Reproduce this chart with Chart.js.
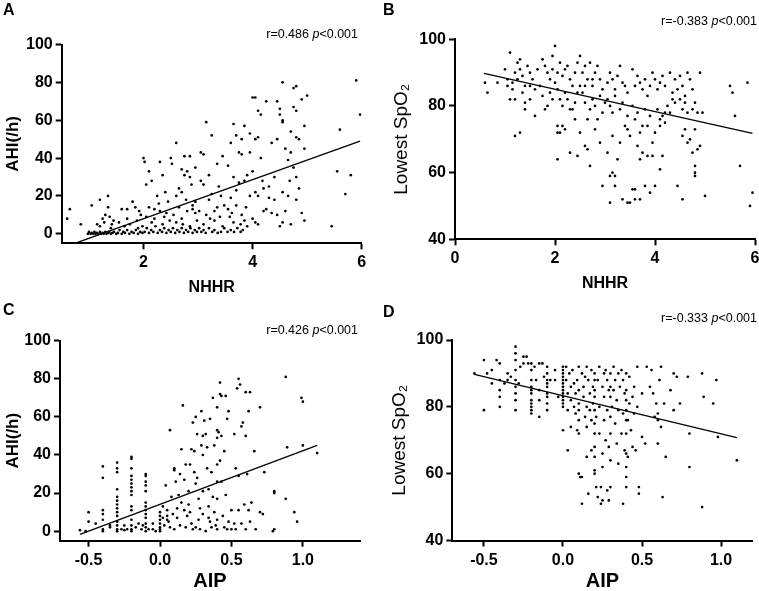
<!DOCTYPE html>
<html>
<head>
<meta charset="utf-8">
<script src="https://cdn.jsdelivr.net/npm/chart.js@4.4.1/dist/chart.umd.min.js"></script>
<style>
  body { margin: 0; background: #fff; overflow: hidden; }
  #wrap { position: relative; width: 759px; height: 591px; font-family: "Liberation Sans", Arial, sans-serif; color: #000; }
  canvas { position: absolute; }
  .tag { position: absolute; font-size: 16px; font-weight: bold; line-height: 1; }
  .note { position: absolute; width: 200px; text-align: right; font-size: 12.5px; line-height: 14px; white-space: nowrap; }
</style>
</head>
<body>
<div id="wrap">
  <canvas id="chartA" width="380" height="300" style="left:0;top:0"></canvas>
  <canvas id="chartB" width="385" height="300" style="left:380px;top:0"></canvas>
  <canvas id="chartC" width="380" height="301" style="left:0;top:290px"></canvas>
  <canvas id="chartD" width="385" height="301" style="left:380px;top:290px"></canvas>
  <div class="tag" style="left:3px;top:2px">A</div>
  <div class="tag" style="left:383px;top:2px">B</div>
  <div class="tag" style="left:3px;top:302px">C</div>
  <div class="tag" style="left:383px;top:304px">D</div>
  <div class="note" style="left:158px;top:27px">r=0.486 <i>p</i>&lt;0.001</div>
  <div class="note" style="left:557px;top:14px">r=-0.383 <i>p</i>&lt;0.001</div>
  <div class="note" style="left:158px;top:323px">r=0.426 <i>p</i>&lt;0.001</div>
  <div class="note" style="left:557px;top:311px">r=-0.333 <i>p</i>&lt;0.001</div>
</div>
<script>
// tick values / labels
const nhhrTicksA = [2, 4, 6];
const nhhrTicksB = [0, 2, 4, 6];
const aipTicks = [-0.5, 0, 0.5, 1.0];
const aipLabels = ["-0.5", "0.0", "0.5", "1.0"];
const ahiTicks = [0, 20, 40, 60, 80, 100];
const spo2Ticks = [40, 60, 80, 100];

// regression lines (end points)
const fitA = [[0.74, -5], [5.97, 49]];
const fitB = [[0.58, 89.8], [5.95, 71.8]];
const fitC = [[-0.56, -1.7], [1.1, 45]];
const fitD = [[-0.56, 89.7], [1.1, 70.8]];

// A: NHHR vs AHI
const nhhrAhi = [
  [0.6, 8], [0.65, 13], [0.85, 5],
  [1.05, 15], [1.2, 18], [1.35, 20], [1.35, 14], [1.25, 8], [1.15, 5], [1.3, 10], [1.4, 3], [1.45, 7], [1.2, 4], [1.28, 6], [1.38, 9], [1.42, 5],
  [0.98, 0], [1.0, 1], [1.03, 0], [1.05, 0.5], [1.08, 0], [1.1, 1], [1.12, 0], [1.14, 0.5], [1.17, 0], [1.2, 1], [1.22, 0], [1.25, 0.5], [1.27, 0], [1.3, 1], [1.32, 0], [1.35, 0.5], [1.37, 1], [1.4, 0], [1.43, 0.5], [1.46, 1], [1.5, 0], [1.53, 0.5], [1.56, 2], [1.6, 0], [1.63, 1], [1.66, 0.5], [1.7, 2], [1.74, 0], [1.78, 1], [1.82, 0.5], [1.86, 2], [1.9, 0], [1.94, 1], [1.98, 0.5],
  [1.6, 13], [1.7, 13], [1.8, 17], [1.85, 14], [1.55, 6], [1.7, 8], [1.9, 3], [1.95, 10], [1.65, 4], [1.75, 5], [1.88, 7], [1.92, 12], [1.98, 4],
  [2.02, 1], [2.06, 3], [2.1, 0.5], [2.14, 2], [2.18, 1], [2.22, 4], [2.26, 0.5], [2.3, 2], [2.34, 1], [2.38, 3], [2.42, 0.5], [2.46, 2], [2.5, 1], [2.54, 3], [2.58, 0.5], [2.62, 2], [2.66, 1], [2.7, 3], [2.74, 0.5], [2.78, 2], [2.82, 1], [2.86, 3], [2.9, 0.5], [2.94, 2], [2.98, 1], [3.02, 3], [3.06, 1], [3.1, 2], [3.14, 0.5], [3.2, 3], [3.26, 1], [3.3, 2], [3.36, 0.5], [3.42, 1], [3.48, 3], [3.54, 1], [3.6, 2], [3.66, 1], [3.72, 3], [3.78, 1], [3.82, 2],
  [2.0, 40], [2.02, 38], [2.05, 26], [2.1, 33], [2.15, 28], [2.3, 38], [2.35, 31], [2.5, 40], [2.52, 37], [2.25, 20], [2.3, 12], [2.4, 22], [2.45, 17], [2.2, 8], [2.1, 14], [2.05, 9], [2.35, 5], [2.15, 6], [2.28, 16], [2.42, 11], [2.48, 7], [2.2, 13], [2.38, 9],
  [2.6, 48], [2.75, 41], [2.85, 41], [2.7, 34], [2.75, 31], [2.8, 33], [2.85, 30], [2.95, 35], [2.65, 24], [2.7, 22], [2.9, 15], [2.95, 17], [2.6, 20], [2.8, 12], [2.9, 13], [2.95, 11], [2.7, 8], [2.85, 4], [2.6, 6], [2.55, 10], [2.65, 14], [2.78, 18], [2.88, 26], [2.98, 7], [2.72, 5],
  [3.15, 59], [3.25, 52], [3.05, 43], [3.1, 42], [3.35, 37], [3.45, 41], [3.05, 28], [3.1, 26], [3.2, 18], [3.25, 21], [3.35, 14], [3.4, 9], [3.15, 10], [3.3, 7], [3.45, 4], [3.1, 5], [3.3, 12], [3.2, 31], [3.38, 25], [3.48, 15], [3.02, 12], [3.22, 8], [3.42, 20],
  [3.65, 58], [3.7, 52], [3.85, 57], [3.8, 50], [3.95, 53], [3.75, 43], [3.8, 42], [3.95, 43], [3.6, 48], [3.55, 36], [3.65, 30], [3.75, 27], [3.9, 31], [3.85, 28], [3.6, 19], [3.7, 15], [3.55, 13], [3.8, 10], [3.85, 7], [3.65, 6], [3.9, 4], [3.95, 20], [3.7, 23], [3.58, 9], [3.78, 5], [3.62, 11], [3.88, 14],
  [4.0, 72], [4.05, 72], [4.1, 65], [4.15, 63], [4.25, 70], [4.1, 51], [4.05, 50], [4.15, 40], [4.0, 33], [4.05, 22], [4.1, 20], [4.2, 24], [4.3, 19], [4.4, 18], [4.2, 12], [4.35, 11], [4.45, 10], [4.05, 6], [4.1, 5], [4.3, 25], [4.25, 13], [4.4, 30], [4.0, 8], [4.18, 28], [4.35, 48],
  [4.55, 80], [4.75, 77], [4.8, 78], [4.45, 70], [4.5, 66], [4.55, 60], [4.5, 63], [4.45, 50], [4.55, 59], [4.75, 67], [4.8, 65], [4.9, 71], [5.0, 73], [4.95, 57], [4.7, 54], [4.8, 51], [4.85, 50], [4.95, 45], [4.7, 43], [4.65, 39], [4.75, 35], [4.8, 30], [4.55, 22], [4.65, 20], [4.8, 18], [4.9, 11], [4.6, 12], [4.55, 6], [4.7, 5], [4.5, 4], [4.95, 7], [4.6, 45], [4.85, 24], [4.68, 28],
  [5.45, 4], [5.55, 33], [5.6, 55], [5.7, 21], [5.8, 31], [5.9, 81], [5.97, 63]
];

// B: NHHR vs lowest SpO2
const nhhrSpo2 = [
  [0.6, 87], [0.65, 84], [0.85, 87], [1.0, 91], [1.05, 88], [1.1, 96], [1.05, 86], [1.1, 82], [1.15, 87], [1.2, 90], [1.25, 93], [1.3, 94], [1.3, 91], [1.35, 89], [1.4, 86], [1.45, 92], [1.5, 90], [1.5, 86], [1.55, 88], [1.6, 85], [1.65, 91], [1.4, 81], [1.4, 79], [1.5, 82], [1.2, 71], [1.3, 72], [1.2, 82], [1.15, 85], [1.25, 88], [1.35, 84],
  [1.75, 94], [1.8, 92], [1.85, 90], [1.9, 88], [1.95, 95], [2.0, 98], [1.7, 86], [1.75, 83], [1.8, 79], [1.9, 84], [1.95, 82], [1.6, 77], [1.85, 80], [2.0, 87], [1.95, 91],
  [2.05, 90], [2.1, 93], [2.15, 89], [2.2, 91], [2.25, 92], [2.3, 88], [2.35, 86], [2.4, 90], [2.45, 93], [2.5, 95], [2.05, 85], [2.1, 82], [2.15, 80], [2.2, 84], [2.25, 82], [2.3, 79], [2.4, 81], [2.45, 84], [2.05, 74], [2.1, 72], [2.05, 72], [2.15, 74], [2.2, 73], [2.4, 76], [2.05, 64], [2.3, 66], [2.45, 65], [2.5, 72], [2.35, 79], [2.5, 86],
  [2.55, 90], [2.6, 92], [2.65, 88], [2.7, 93], [2.75, 86], [2.8, 90], [2.85, 92], [2.9, 88], [2.95, 85], [2.55, 84], [2.6, 81], [2.65, 76], [2.7, 79], [2.75, 82], [2.8, 80], [2.9, 83], [2.95, 78], [2.6, 68], [2.65, 67], [2.7, 62], [2.8, 73], [2.9, 69], [2.95, 56], [2.85, 76], [3.0, 81], [2.6, 86], [2.75, 88],
  [3.05, 87], [3.1, 90], [3.15, 88], [3.2, 85], [3.25, 89], [3.3, 92], [3.35, 87], [3.4, 86], [3.45, 84], [3.05, 82], [3.1, 80], [3.15, 78], [3.2, 83], [3.3, 79], [3.35, 81], [3.45, 77], [3.05, 66], [3.1, 59], [3.15, 60], [3.2, 59], [3.25, 64], [3.1, 51], [3.2, 56], [3.3, 69], [3.35, 52], [3.45, 51], [3.5, 51], [3.4, 74], [3.45, 73], [3.15, 71],
  [3.55, 91], [3.6, 86], [3.65, 89], [3.7, 87], [3.75, 85], [3.8, 88], [3.85, 83], [3.9, 86], [3.95, 90], [3.55, 80], [3.6, 76], [3.65, 78], [3.7, 72], [3.75, 74], [3.8, 79], [3.85, 74], [3.9, 77], [3.95, 69], [3.55, 55], [3.6, 55], [3.65, 68], [3.7, 64], [3.75, 66], [3.8, 56], [3.85, 65], [3.9, 54], [3.95, 65], [4.0, 56], [3.6, 52], [3.5, 71], [3.7, 52],
  [4.0, 88], [4.05, 85], [4.1, 87], [4.15, 89], [4.2, 86], [4.3, 90], [4.35, 84], [4.4, 81], [4.45, 85], [4.05, 79], [4.1, 76], [4.15, 77], [4.2, 75], [4.25, 80], [4.3, 78], [4.35, 82], [4.0, 72], [4.1, 74], [4.15, 65], [4.1, 61], [4.45, 56], [4.5, 82], [4.2, 78], [4.4, 88],
  [4.5, 89], [4.55, 86], [4.6, 83], [4.65, 90], [4.7, 88], [4.75, 85], [4.8, 81], [4.85, 78], [4.9, 90], [4.55, 79], [4.6, 81], [4.65, 78], [4.55, 71], [4.6, 73], [4.65, 69], [4.7, 70], [4.75, 66], [4.8, 73], [4.85, 67], [4.9, 68], [4.8, 62], [4.8, 60], [4.8, 59], [4.55, 52], [5.0, 53], [4.95, 78], [4.75, 79],
  [5.5, 86], [5.55, 84], [5.6, 77], [5.7, 62], [5.85, 87], [5.9, 50], [5.95, 54]
];

// C: AIP vs AHI
const aipAhi = [
  [-0.56, 0.5], [-0.52, 0], [-0.5, 10], [-0.5, 5], [-0.45, 4], [-0.4, 34], [-0.4, 28], [-0.4, 11], [-0.4, 9], [-0.4, 6], [-0.4, 1], [-0.4, 0], [-0.35, 3], [-0.35, 2],
  [-0.3, 36], [-0.3, 33], [-0.3, 31], [-0.3, 22], [-0.3, 18], [-0.3, 16], [-0.3, 14], [-0.3, 12], [-0.3, 10], [-0.3, 8], [-0.3, 5], [-0.3, 3], [-0.3, 1], [-0.3, 0], [-0.27, 1], [-0.25, 0.5],
  [-0.2, 39], [-0.2, 38], [-0.2, 33], [-0.2, 29], [-0.2, 27], [-0.2, 25], [-0.2, 23], [-0.2, 21], [-0.2, 19], [-0.2, 13], [-0.2, 11], [-0.2, 6], [-0.2, 3], [-0.2, 1], [-0.2, 0], [-0.23, 1], [-0.17, 2], [-0.15, 4], [-0.13, 1], [-0.25, 3],
  [-0.1, 30], [-0.1, 29], [-0.1, 26], [-0.1, 24], [-0.1, 21], [-0.1, 15], [-0.1, 13], [-0.1, 11], [-0.1, 9], [-0.1, 7], [-0.1, 4], [-0.1, 2], [-0.1, 0], [-0.12, 3], [-0.08, 1], [-0.05, 4], [-0.05, 1], [-0.03, 0],
  [0.0, 10], [0.0, 8], [0.0, 6], [0.0, 4], [0.0, 2], [0.0, 1], [0.0, 0], [0.02, 13], [0.02, 7], [0.03, 3], [0.04, 24], [0.05, 11], [0.05, 8], [0.05, 6], [0.06, 5], [0.07, 2], [0.07, 53], [0.08, 18], [0.09, 9], [0.1, 33], [0.1, 32], [0.1, 1], [0.11, 26], [0.12, 12], [0.12, 7], [0.13, 19], [0.14, 30], [0.14, 3], [0.15, 43], [0.15, 15], [0.16, 66], [0.17, 27], [0.17, 11], [0.18, 35], [0.18, 2], [0.19, 8],
  [0.2, 21], [0.2, 14], [0.21, 10], [0.22, 4], [0.22, 43], [0.23, 57], [0.24, 42], [0.24, 31], [0.25, 25], [0.25, 60], [0.26, 51], [0.26, 28], [0.27, 17], [0.27, 6], [0.28, 1], [0.29, 45], [0.29, 63], [0.3, 50], [0.3, 40], [0.3, 21], [0.3, 9], [0.25, 2], [0.23, 1], [0.28, 12], [0.21, 35],
  [0.31, 58], [0.32, 51], [0.33, 44], [0.33, 33], [0.34, 22], [0.34, 13], [0.35, 59], [0.35, 5], [0.36, 31], [0.36, 2], [0.37, 70], [0.37, 18], [0.38, 45], [0.38, 10], [0.39, 3], [0.4, 65], [0.4, 53], [0.4, 49], [0.4, 35], [0.4, 26], [0.4, 17], [0.4, 6], [0.4, 1], [0.32, 0], [0.34, 7],
  [0.41, 52], [0.42, 78], [0.42, 72], [0.43, 71], [0.43, 50], [0.42, 37], [0.44, 8], [0.45, 2], [0.46, 71], [0.46, 19], [0.47, 59], [0.47, 1], [0.48, 63], [0.5, 11], [0.5, 1], [0.45, 42], [0.43, 26], [0.48, 5],
  [0.52, 51], [0.53, 33], [0.54, 75], [0.55, 80], [0.56, 77], [0.57, 55], [0.58, 57], [0.59, 14], [0.6, 73], [0.6, 50], [0.61, 30], [0.62, 63], [0.62, 11], [0.63, 73], [0.64, 15], [0.63, 5], [0.66, 42], [0.67, 1], [0.55, 29], [0.55, 11], [0.57, 4], [0.52, 4], [0.53, 1], [0.7, 65], [0.7, 10], [0.72, 9], [0.73, 31], [0.6, 1],
  [0.79, 0], [0.8, 1], [0.8, 21], [0.8, 20], [0.88, 81], [0.89, 44], [0.88, 17], [0.94, 10], [0.96, 5], [0.99, 70], [1.0, 68], [1.0, 45], [1.1, 41]
];

// D: AIP vs lowest SpO2
const aipSpo2 = [
  [-0.56, 90], [-0.5, 94], [-0.5, 79], [-0.48, 90], [-0.45, 91], [-0.45, 87], [-0.42, 94], [-0.4, 93], [-0.4, 88], [-0.4, 85], [-0.4, 83], [-0.4, 80], [-0.37, 87], [-0.35, 90], [-0.35, 88], [-0.33, 89], [-0.3, 98], [-0.3, 96], [-0.3, 94], [-0.3, 91], [-0.3, 88], [-0.3, 86], [-0.3, 84], [-0.3, 82], [-0.3, 79], [-0.28, 87], [-0.27, 92],
  [-0.25, 95], [-0.25, 93], [-0.23, 95], [-0.22, 93], [-0.2, 93], [-0.2, 91], [-0.2, 88], [-0.2, 86], [-0.2, 85], [-0.2, 84], [-0.2, 82], [-0.2, 81], [-0.2, 80], [-0.2, 79], [-0.2, 78], [-0.18, 92], [-0.17, 88], [-0.15, 93], [-0.15, 85], [-0.15, 82], [-0.15, 77], [-0.13, 93], [-0.12, 89], [-0.1, 92], [-0.1, 90], [-0.1, 88], [-0.1, 87], [-0.1, 86], [-0.1, 84], [-0.1, 83], [-0.1, 81], [-0.1, 79], [-0.08, 88], [-0.05, 91], [-0.05, 88], [-0.03, 83],
  [0.0, 92], [0.0, 91], [0.0, 90], [0.0, 89], [0.0, 88], [0.0, 87], [0.0, 86], [0.0, 85], [0.0, 84], [0.0, 83], [0.0, 82], [0.0, 81], [0.0, 80], [0.0, 73], [0.02, 92], [0.02, 88], [0.03, 84], [0.03, 79], [0.03, 67], [0.04, 90], [0.05, 86], [0.05, 82], [0.05, 74], [0.06, 91], [0.07, 87], [0.07, 80], [0.08, 84], [0.08, 78], [0.09, 88], [0.09, 73], [0.1, 92], [0.1, 85], [0.1, 81], [0.1, 79], [0.1, 76], [0.1, 72], [0.1, 60], [0.11, 59], [0.12, 51], [0.12, 59],
  [0.12, 90], [0.13, 86], [0.13, 83], [0.14, 89], [0.14, 77], [0.15, 92], [0.15, 80], [0.15, 74], [0.15, 65], [0.16, 88], [0.16, 54], [0.17, 84], [0.17, 79], [0.18, 91], [0.18, 76], [0.18, 67], [0.19, 86], [0.19, 81], [0.2, 90], [0.2, 88], [0.2, 85], [0.2, 83], [0.2, 79], [0.2, 75], [0.2, 72], [0.2, 68], [0.2, 65], [0.2, 61], [0.2, 60], [0.21, 56], [0.21, 77], [0.22, 88], [0.22, 53],
  [0.23, 92], [0.23, 80], [0.23, 72], [0.24, 51], [0.24, 56], [0.25, 86], [0.25, 66], [0.25, 62], [0.25, 52], [0.26, 90], [0.26, 83], [0.26, 76], [0.27, 91], [0.27, 70], [0.28, 88], [0.28, 79], [0.28, 55], [0.29, 85], [0.29, 68], [0.29, 52], [0.3, 90], [0.3, 86], [0.3, 83], [0.3, 77], [0.3, 72], [0.3, 64], [0.3, 56], [0.31, 80], [0.32, 92], [0.32, 85], [0.33, 88], [0.33, 75], [0.34, 82], [0.34, 69], [0.35, 90], [0.35, 79], [0.35, 63],
  [0.36, 86], [0.37, 91], [0.37, 72], [0.38, 88], [0.38, 78], [0.38, 51], [0.39, 84], [0.39, 67], [0.4, 90], [0.4, 85], [0.4, 82], [0.4, 79], [0.4, 76], [0.4, 72], [0.4, 66], [0.4, 62], [0.4, 59], [0.4, 56], [0.41, 76], [0.41, 65], [0.42, 89], [0.42, 81], [0.43, 73], [0.44, 83], [0.44, 68], [0.45, 86], [0.45, 78], [0.46, 67], [0.47, 92], [0.47, 80], [0.48, 56], [0.48, 54], [0.5, 84], [0.5, 71],
  [0.52, 69], [0.53, 92], [0.55, 86], [0.56, 91], [0.57, 84], [0.58, 77], [0.59, 81], [0.6, 78], [0.6, 69], [0.6, 76], [0.61, 88], [0.62, 92], [0.62, 74], [0.63, 53], [0.64, 81], [0.65, 65], [0.68, 85], [0.7, 90], [0.7, 79], [0.72, 89], [0.74, 81], [0.79, 89], [0.8, 72], [0.8, 62], [0.88, 90], [0.89, 83], [0.88, 50], [0.95, 81], [0.97, 88], [0.98, 71], [1.1, 64]
];

const FONT = "'Liberation Sans', Arial, sans-serif";

const toXY = (arr) => arr.map(([x, y]) => ({ x, y }));

const axis = (o) => ({
  type: "linear",
  min: o.min,
  max: o.max,
  afterBuildTicks: (s) => { s.ticks = o.ticks.map((v) => ({ value: v })); },
  afterFit: (s) => {
    if (s.isHorizontal()) s.height = o.size;
    else s.width = o.size;
  },
  ticks: {
    autoSkip: false,
    maxRotation: 0,
    color: "#000",
    padding: o.tickPad,
    font: { family: FONT, size: 16, weight: "bold" },
    callback: (v, i) => (o.labels ? o.labels[i] : String(v)),
  },
  grid: { drawOnChartArea: false, drawTicks: true, tickLength: 6, tickWidth: 2, tickColor: "#000" },
  border: { display: true, color: "#000", width: 2 },
  title: {
    display: true,
    text: o.title,
    color: "#000",
    font: { family: FONT, size: o.titleSize, weight: o.titleWeight, lineHeight: 1 },
    padding: o.titlePad,
  },
});

const makePanel = (id, pts, fit, pad, xOpt, yOpt) => new Chart(document.getElementById(id), {
  type: "scatter",
  data: {
    datasets: [
      { data: toXY(pts), pointRadius: 1.35, pointBorderWidth: 0, backgroundColor: "#000" },
      { type: "line", data: toXY(fit), borderColor: "#000", borderWidth: 1.3, pointRadius: 0, fill: false },
    ],
  },
  options: {
    responsive: false,
    animation: false,
    events: [],
    layout: { padding: pad },
    plugins: { legend: { display: false }, tooltip: { enabled: false } },
    scales: { x: axis(xOpt), y: axis(yOpt) },
  },
});

makePanel("chartA", nhhrAhi, fitA, { left: 0, top: 44.5, right: 18.3, bottom: 0 },
  { min: 0.5, max: 6, ticks: nhhrTicksA, size: 56.7, tickPad: 4, title: "NHHR", titleSize: 16, titleWeight: "bold", titlePad: { top: 0, bottom: 4 } },
  { min: -5, max: 100, ticks: ahiTicks, size: 61.7, tickPad: 3, title: "AHI(/h)", titleSize: 17, titleWeight: "bold", titlePad: { top: 4.5, bottom: 0 } });

makePanel("chartB", nhhrSpo2, fitB, { left: 0, top: 39.3, right: 10, bottom: 0 },
  { min: 0, max: 6, ticks: nhhrTicksB, size: 60.7, tickPad: 4, title: "NHHR", titleSize: 16, titleWeight: "bold", titlePad: { top: 0, bottom: 8 } },
  { min: 40, max: 100, ticks: spo2Ticks, size: 75, tickPad: 3, title: "Lowest SpO₂", titleSize: 19, titleWeight: "normal", titlePad: { top: 12, bottom: 0 } });

makePanel("chartC", aipAhi, fitC, { left: 0, top: 50.7, right: 20, bottom: 0 },
  { min: -0.7, max: 1.4, ticks: aipTicks, labels: aipLabels, size: 50.3, tickPad: 4, title: "AIP", titleSize: 20, titleWeight: "bold", titlePad: { top: 0, bottom: 0 } },
  { min: -5, max: 100, ticks: ahiTicks, size: 60, tickPad: 3, title: "AHI(/h)", titleSize: 17, titleWeight: "bold", titlePad: { top: 4.5, bottom: 0 } });

makePanel("chartD", aipSpo2, fitD, { left: 0, top: 50, right: 12.3, bottom: 0 },
  { min: -0.7, max: 1.2, ticks: aipTicks, labels: aipLabels, size: 50.5, tickPad: 4, title: "AIP", titleSize: 20, titleWeight: "bold", titlePad: { top: 0, bottom: 0 } },
  { min: 40, max: 100, ticks: spo2Ticks, size: 72.3, tickPad: 3, title: "Lowest SpO₂", titleSize: 19, titleWeight: "normal", titlePad: { top: 10.5, bottom: 0 } });
</script>
</body>
</html>
